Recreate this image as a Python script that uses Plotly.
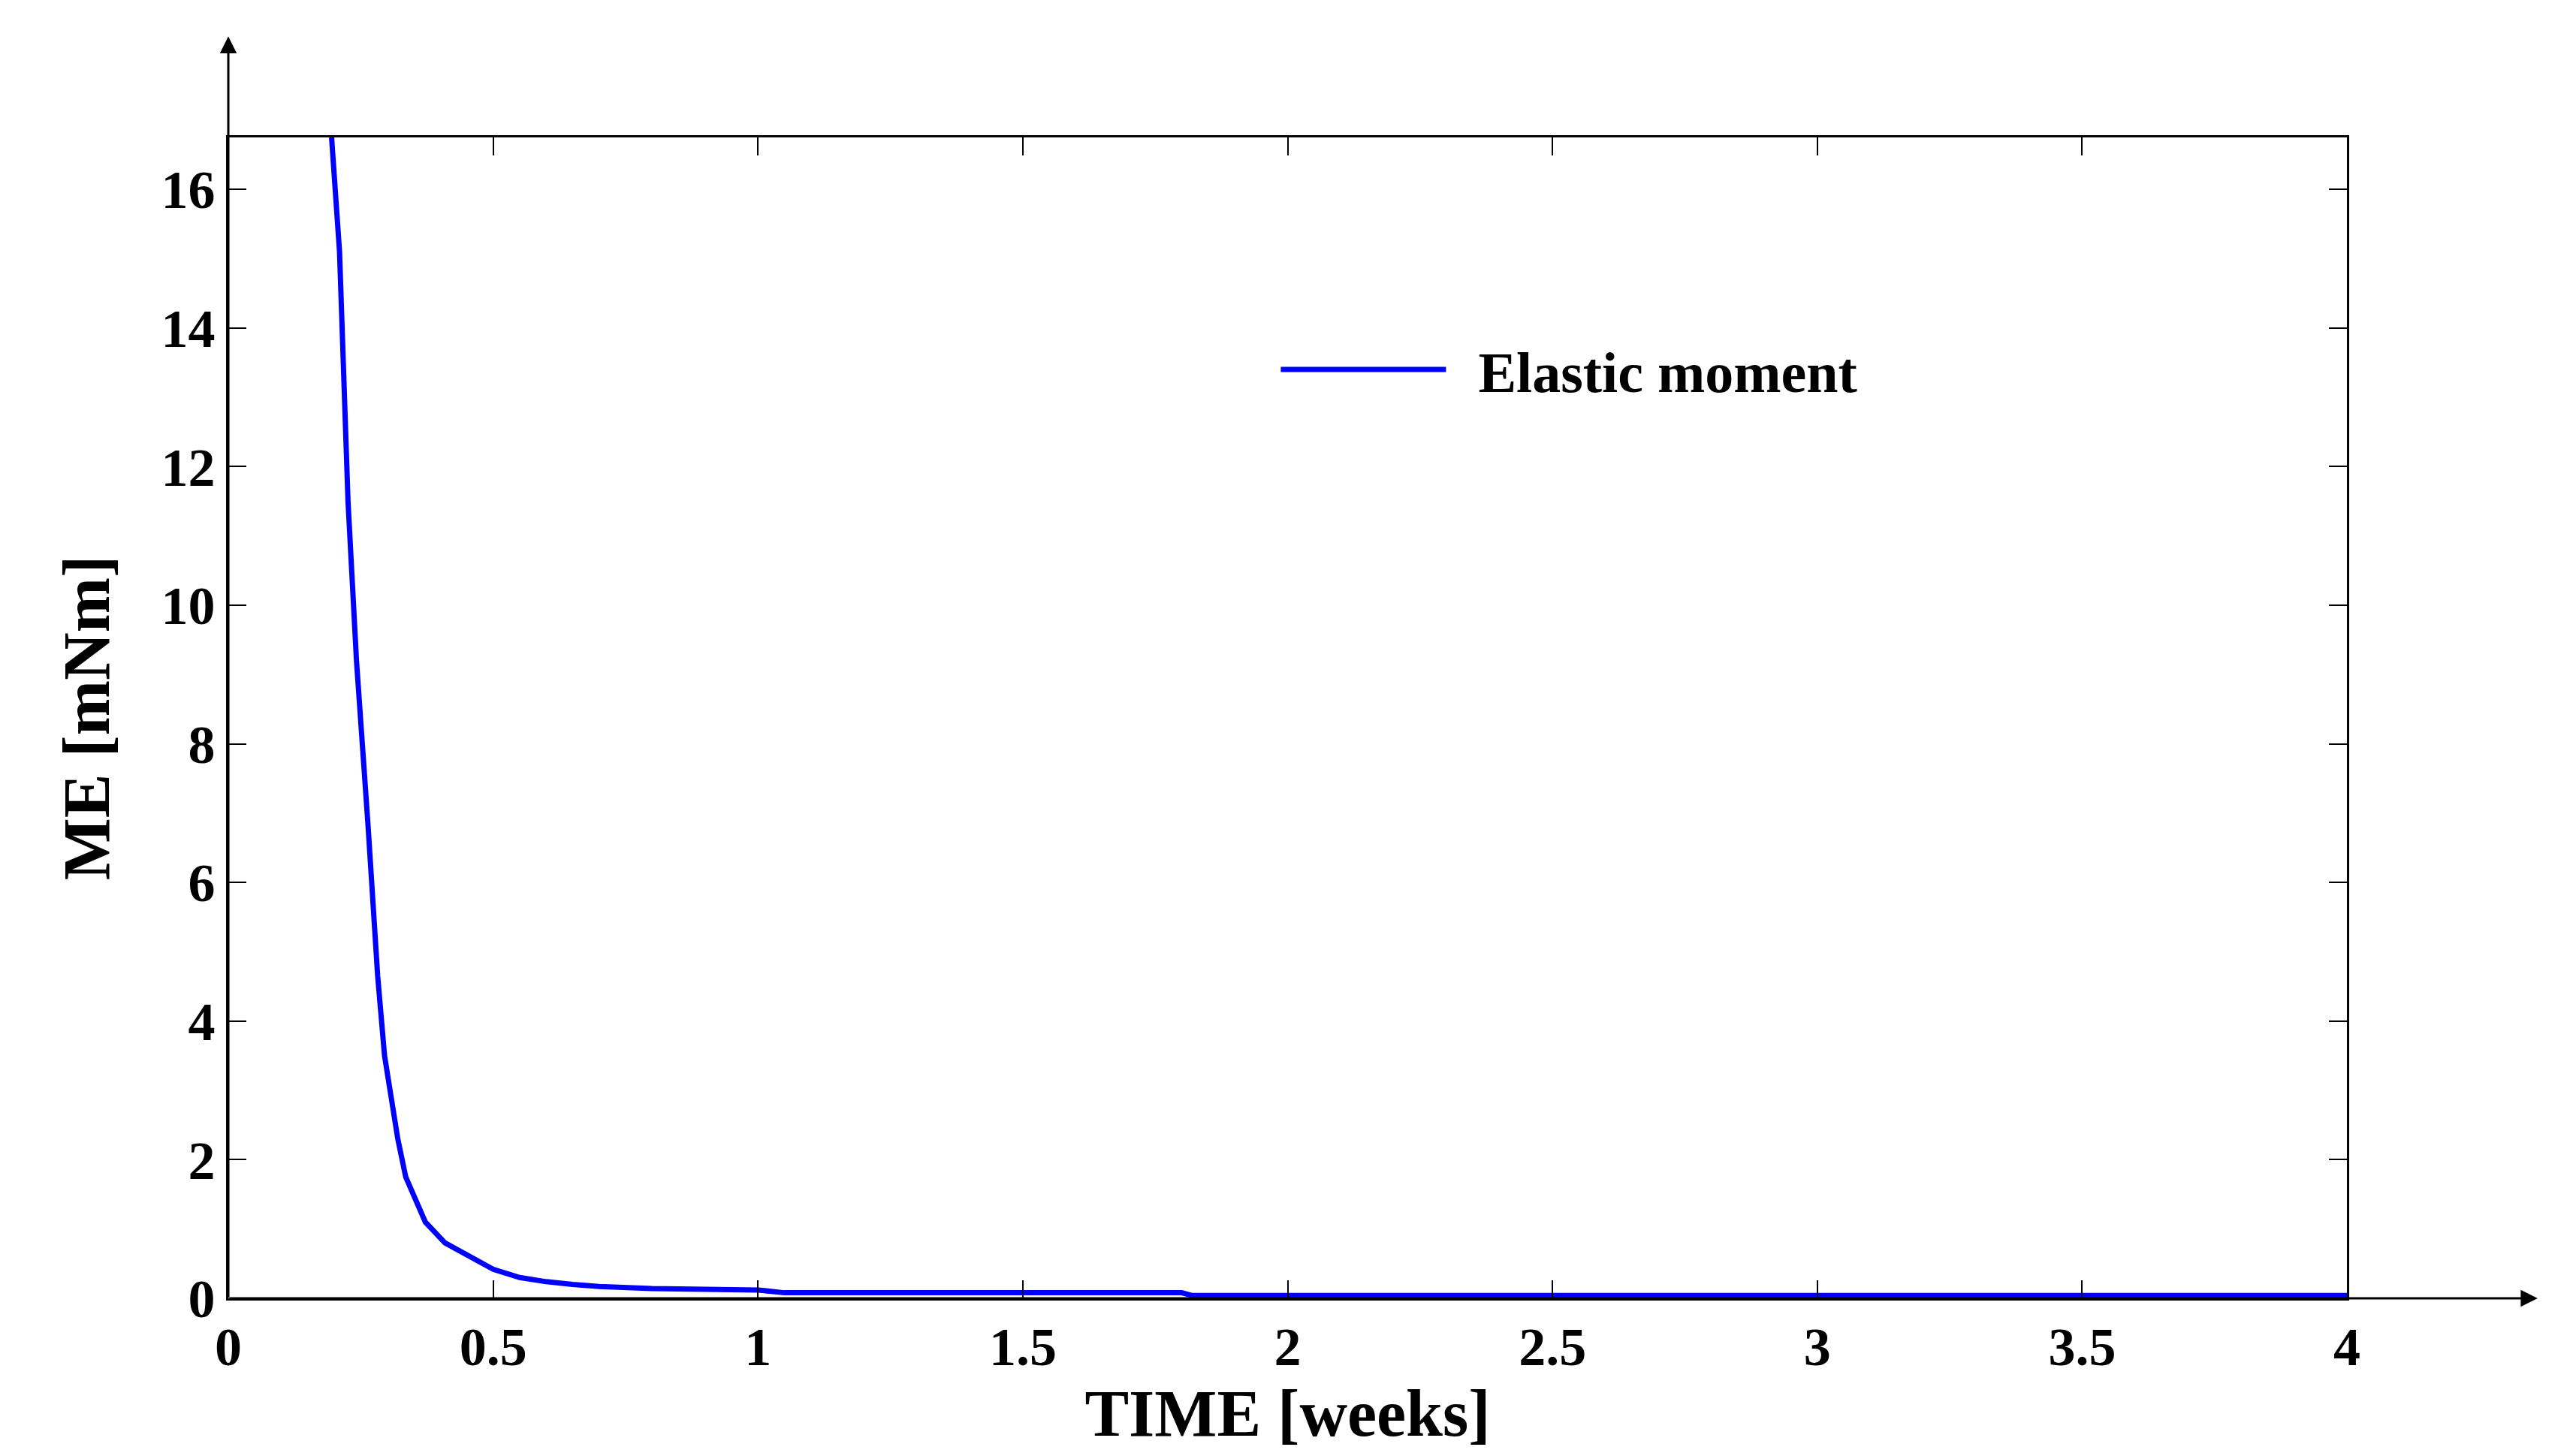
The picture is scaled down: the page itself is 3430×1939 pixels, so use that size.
import plotly.graph_objects as go

time_weeks = [0.195, 0.21, 0.226, 0.242, 0.264, 0.282, 0.295, 0.32, 0.335, 0.372, 0.409,
              0.45, 0.5, 0.55, 0.6, 0.65, 0.7, 0.8, 0.9, 1.0, 1.05, 1.3, 1.6, 1.8, 1.82, 2.5, 3.0, 4.0]
me_values = [16.75, 15.1, 11.5, 9.2, 6.8, 4.65, 3.5, 2.3, 1.75, 1.1, 0.8,
             0.62, 0.42, 0.3, 0.24, 0.2, 0.17, 0.14, 0.13, 0.12, 0.08, 0.08, 0.08, 0.08, 0.04, 0.04, 0.04, 0.04]

FONT = "Liberation Serif"
fig = go.Figure()
fig.add_trace(go.Scatter(x=time_weeks, y=me_values, mode="lines", name="  <b>Elastic moment</b>",
                         line=dict(color="#0000ff", width=7)))

axis_common = dict(showline=True, linecolor="black", linewidth=3, mirror="ticks", ticks="inside",
                   ticklen=24, tickwidth=2, tickcolor="black", showgrid=False, zeroline=False,
                   tickfont=dict(family=FONT, size=72, color="black", weight="bold"))
fig.update_layout(
    width=3430, height=1939, paper_bgcolor="white", plot_bgcolor="white",
    margin=dict(l=296, r=313, t=175, b=218),
    xaxis=dict(range=[0, 4], dtick=0.5, **axis_common,
               title=dict(text="<b>TIME [weeks]</b>", font=dict(family=FONT, size=88, color="black"), standoff=5)),
    yaxis=dict(range=[0, 16.75], dtick=2, **axis_common,
               title=dict(text="<b>ME [mNm]</b>", font=dict(family=FONT, size=88, color="black"), standoff=40)),
    legend=dict(x=0.495, y=0.80, xanchor="left", yanchor="middle", bgcolor="rgba(0,0,0,0)",
                font=dict(family=FONT, size=76, color="black"), itemwidth=220),
    showlegend=True,
)
fig.add_annotation(x=0, y=1.087, xref="paper", yref="paper", ax=0, ay=1681, axref="pixel", ayref="pixel",
                   text="", showarrow=True, arrowhead=2, arrowsize=1.5, arrowwidth=3, arrowcolor="black")
fig.add_annotation(x=1.09, y=0, xref="paper", yref="paper", ax=-3075, ay=0,
                   text="", showarrow=True, arrowhead=2, arrowsize=1.5, arrowwidth=3, arrowcolor="black")
fig.write_html("out.html")
